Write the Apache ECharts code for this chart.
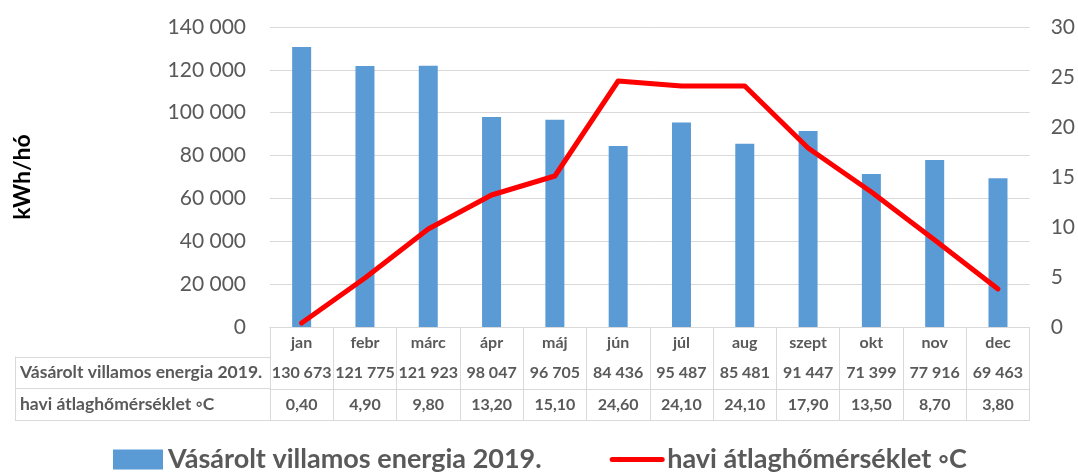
<!DOCTYPE html>
<html>
<head>
<meta charset="utf-8">
<script src="https://cdn.jsdelivr.net/npm/echarts@6/dist/echarts.min.js"></script>
<style>html,body{margin:0;padding:0;background:#fff}#c{width:1078px;height:473px}</style>
</head>
<body>
<div id="c"></div>
<script>
const months = ['jan','febr','márc','ápr','máj','jún','júl','aug','szept','okt','nov','dec'];
const energy = [130673,121775,121923,98047,96705,84436,95487,85481,91447,71399,77916,69463];
const temps = [0.40,4.90,9.80,13.20,15.10,24.60,24.10,24.10,17.90,13.50,8.70,3.80];
const seriesNames = ['Vásárolt villamos energia 2019.', 'havi átlaghőmérséklet ◦C'];
const leftTicks = [0, 20000, 40000, 60000, 80000, 100000, 120000, 140000];
const rightTicks = [0, 5, 10, 15, 20, 25, 30];

const FONT = 'Lato';
const GRAY = '#595959';
const LINE = '#d9d9d9';
const sp = v => String(v).replace(/\B(?=(\d{3})+(?!\d))/g, ' ');
const energyLabels = energy.map(sp);
const tempLabels = temps.map(t => t.toFixed(2).replace('.', ','));
const tableFont = {fontFamily: FONT, fontWeight: 'bold', fontSize: 16, color: GRAY};

const chart = echarts.init(document.getElementById('c'));
chart.setOption({
  animation: false,
  textStyle: {fontFamily: FONT},
  grid: [
    {left: 270, right: 47, top: 27, bottom: 146},
    {left: 15, width: 255, top: 357, height: 63}
  ],
  legend: {
    left: 108, top: 441,
    itemWidth: 50, itemHeight: 20, itemGap: 68,
    textStyle: {fontFamily: FONT, fontWeight: 'bold', fontSize: 27, color: GRAY},
    data: [
      {name: seriesNames[0], icon: 'rect'},
      {name: seriesNames[1], itemStyle: {opacity: 0}, lineStyle: {width: 5, color: '#FF0000'}}
    ]
  },
  xAxis: [
    {gridIndex: 0, type: 'category', data: months,
     axisLine: {lineStyle: {color: LINE}},
     axisTick: {show: true, length: 93, lineStyle: {color: LINE}},
     axisLabel: Object.assign({margin: 8}, tableFont)},
    {gridIndex: 0, type: 'category', data: energyLabels, position: 'bottom', offset: 30,
     axisLine: {lineStyle: {color: LINE}}, axisTick: {show: false},
     axisLabel: Object.assign({margin: 8, interval: 0}, tableFont)},
    {gridIndex: 0, type: 'category', data: tempLabels, position: 'bottom', offset: 62,
     axisLine: {lineStyle: {color: LINE}}, axisTick: {show: false},
     axisLabel: Object.assign({margin: 8, interval: 0}, tableFont)},
    {gridIndex: 0, type: 'category', data: months, position: 'bottom', offset: 93,
     axisLine: {lineStyle: {color: LINE}}, axisTick: {show: false}, axisLabel: {show: false}},
    {gridIndex: 1, type: 'value', min: 0, max: 1, show: false}
  ],
  yAxis: [
    {gridIndex: 0, type: 'value', min: leftTicks[0], max: leftTicks[leftTicks.length - 1],
     interval: leftTicks[1] - leftTicks[0],
     name: 'kWh/hó', nameLocation: 'middle', nameRotate: 90, nameGap: 236,
     nameTextStyle: {fontFamily: FONT, fontWeight: 'bold', fontSize: 23, color: '#000'},
     axisLine: {show: false}, axisTick: {show: false},
     axisLabel: {margin: 24, fontSize: 21, color: GRAY, fontFamily: FONT, formatter: v => sp(v)},
     splitLine: {lineStyle: {color: LINE, width: 1}}},
    {gridIndex: 0, type: 'value', position: 'right', min: rightTicks[0], max: rightTicks[rightTicks.length - 1],
     interval: rightTicks[1] - rightTicks[0],
     axisLine: {show: false}, axisTick: {show: false}, splitLine: {show: false},
     axisLabel: {margin: 21, fontSize: 21, color: GRAY, fontFamily: FONT}},
    {gridIndex: 1, type: 'category', data: seriesNames, inverse: true,
     axisLine: {show: true, lineStyle: {color: LINE}}, axisTick: {show: false},
     splitLine: {show: true, lineStyle: {color: LINE}},
     axisLabel: Object.assign({inside: true, margin: 5}, tableFont, {fontSize: 17.5})}
  ],
  series: [
    {name: seriesNames[0], type: 'bar', xAxisIndex: 0, yAxisIndex: 0, data: energy,
     barWidth: 19, itemStyle: {color: '#5B9BD5'}},
    {name: seriesNames[1], type: 'line', xAxisIndex: 0, yAxisIndex: 1, data: temps,
     symbol: 'none', lineStyle: {color: '#FF0000', width: 5, cap: 'round', join: 'round'},
     itemStyle: {color: '#FF0000'}}
  ]
});
</script>
</body>
</html>
